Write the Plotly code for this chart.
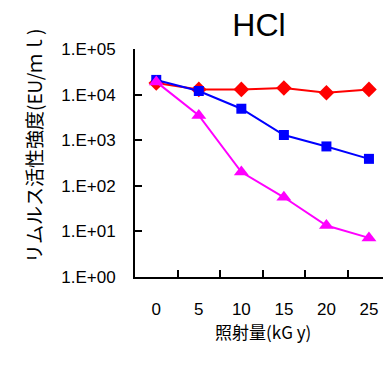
import plotly.graph_objects as go

doses = ["0", "5", "10", "15", "20", "25"]
red_vals = [18000, 13000, 13000, 14000, 11000, 13000]
blue_vals = [21000, 12000, 4900, 1300, 730, 390]
magenta_vals = [19000, 3500, 200, 56, 13.5, 7.2]
ytick_vals = [1, 10, 100, 1000, 10000, 100000]
ytick_text = ["1.E+00", "1.E+01", "1.E+02", "1.E+03", "1.E+04", "1.E+05"]

fig = go.Figure()
fig.add_trace(go.Scatter(x=doses, y=red_vals, mode="lines+markers",
                         line=dict(color="#ff0000", width=2),
                         marker=dict(symbol="diamond", size=12, color="#ff0000")))
fig.add_trace(go.Scatter(x=doses, y=blue_vals, mode="lines+markers",
                         line=dict(color="#0000ff", width=2),
                         marker=dict(symbol="square", size=10, color="#0000ff")))
fig.add_trace(go.Scatter(x=doses, y=magenta_vals, mode="lines+markers",
                         line=dict(color="#ff00ff", width=2),
                         marker=dict(symbol="triangle-up", size=13, color="#ff00ff")))

fig.update_layout(
    width=383, height=367,
    margin=dict(l=135, r=0, t=49, b=90),
    paper_bgcolor="white", plot_bgcolor="white",
    showlegend=False,
    font=dict(family="Liberation Sans, Arial, sans-serif", color="black", size=17),
    title=dict(text="HCl", x=0.5, xref="paper", y=1 - 25 / 367, yanchor="middle",
               font=dict(size=32, family="Liberation Sans, Arial, sans-serif")),
    xaxis=dict(type="category", range=[-0.5, 5.33], tickson="boundaries",
               ticks="inside", ticklen=7, tickwidth=2, tickcolor="black",
               showline=True, linecolor="black", linewidth=2, showgrid=False,
               zeroline=False, ticklabelstandoff=16),
    yaxis=dict(type="log", range=[0, 5], tickvals=ytick_vals, ticktext=ytick_text,
               ticks="inside", ticklen=7, tickwidth=2, tickcolor="black",
               showline=True, linecolor="black", linewidth=2, showgrid=False,
               zeroline=False, ticklabelstandoff=14),
)
fig.add_annotation(text="リムルス活性強度(EU/ｍｌ)", textangle=-90,
                   xref="paper", yref="paper", x=(33 - 135) / 248, y=(277 - 146) / 228,
                   xanchor="center", yanchor="middle", showarrow=False,
                   font=dict(size=19, family="Noto Sans CJK JP", color="black"))
fig.add_annotation(text="照射量(kG y)",
                   xref="paper", yref="paper", x=(263 - 135) / 248, y=(277 - 331) / 228,
                   xanchor="center", yanchor="middle", showarrow=False,
                   font=dict(size=17, family="Noto Sans CJK JP", color="black"))

fig.write_html("out.html")
